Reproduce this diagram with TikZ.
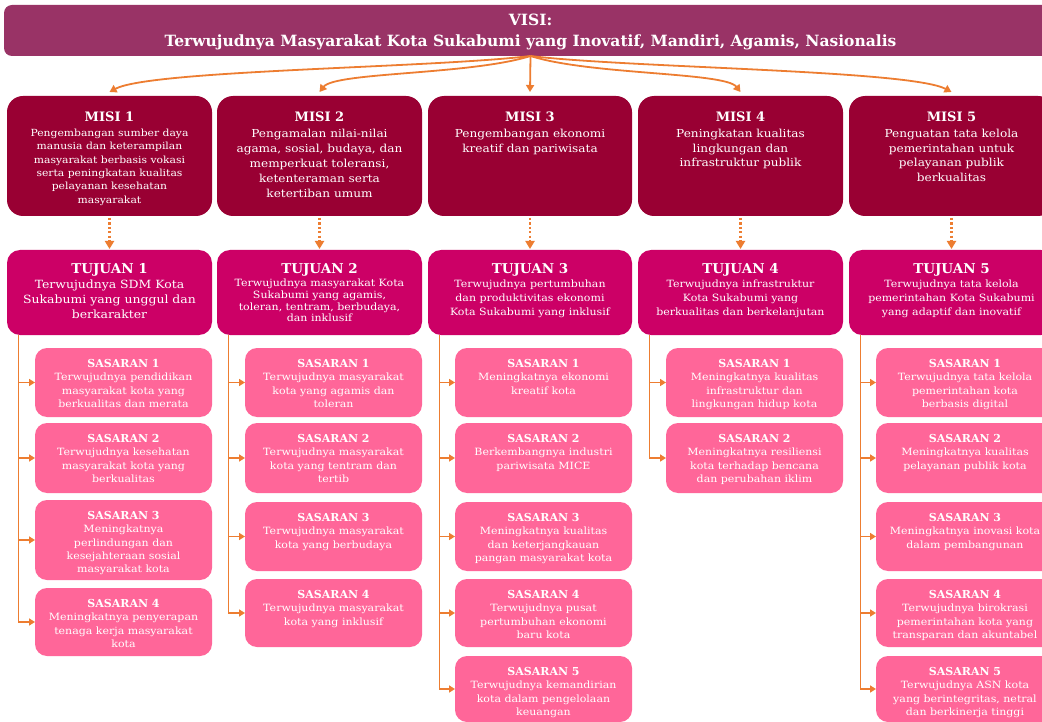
\documentclass[tikz,border=0pt]{standalone}
\usepackage{fontspec}
\setmainfont{DejaVu Serif}
\newfontfamily\bodyf[FakeStretch=1.1]{DejaVu Serif}
\usetikzlibrary{arrows.meta,calc}
\definecolor{visic}{HTML}{993366}
\definecolor{misic}{HTML}{990033}
\definecolor{tujc}{HTML}{CC0066}
\definecolor{sasc}{HTML}{FF6699}
\definecolor{orc}{HTML}{ED7D31}
\tikzset{
  boxbase/.style={inner sep=0pt, outer sep=0pt, draw=none},
  visibox/.style={boxbase, fill=visic, rounded corners=8pt},
  misibox/.style={boxbase, fill=misic, rounded corners=16pt},
  tujbox/.style={boxbase, fill=tujc, rounded corners=13pt},
  sasbox/.style={boxbase, fill=sasc, rounded corners=12pt},
  ttl/.style={inner sep=0pt, text=white, anchor=base},
  bdy/.style={inner sep=0pt, text=white, align=center, anchor=north},
  curvearr/.style={draw=orc, line width=1.8pt, -{Triangle[length=7pt,width=8pt]}},
  dotarr/.style={draw=orc, line width=2.6pt, dash pattern=on 2.2pt off 2.2pt, -{Triangle[length=8pt,width=9pt]}},
  brarr/.style={draw=orc, line width=1.8pt, -{Triangle[length=6pt,width=7pt]}},
}
\newcommand{\bx}[6]{%
  \node[#1, minimum width={#5-#3}, minimum height={#6-#4}] (#2) at ({(#3+#5)/2},{-(#4+#6)/2}) {};}
% name x1 y1 x2 y2 title body bodyfont
\newcommand{\misibx}[8]{%
  \bx{misibox}{#1}{#2}{#3}{#4}{#5}
  \node[ttl, font=\bfseries\fontsize{13}{15}\selectfont] (#1t) at ([yshift=-26pt]#1.north) {#6};
  \node[bdy, font=\bodyf#8] (#1b) at ([yshift=-33pt]#1.north) {#7};}
\newcommand{\tujbx}[9]{%
  \bx{tujbox}{#1}{#2}{#3}{#4}{#5}
  \node[ttl, font=\bfseries\fontsize{13.5}{15}\selectfont] (#1t) at ([yshift=-23.5pt]#1.north) {#6};
  \node[bdy, font=\bodyf#8] (#1b) at ([yshift=-#9pt]#1.north) {#7};}
\newcommand{\sasbx}[7]{%
  \bx{sasbox}{#1}{#2}{#3}{#4}{#5}
  \node[ttl, font=\bfseries\fontsize{11}{13}\selectfont] (#1t) at ([yshift=-19.5pt]#1.north) {#6};
  \node[bdy, font=\bodyf\fontsize{10}{13.3}\selectfont] (#1b) at ([yshift=-25pt]#1.north) {#7};}
\begin{document}
\begin{tikzpicture}[x=1pt,y=1pt]
\clip (0,0) rectangle (1042,-722);
\fill[white] (0,0) rectangle (1042,-722);
% VISI
\bx{visibox}{v}{4}{5}{1057}{56}
\node[ttl, font=\bfseries\fontsize{15.5}{17}\selectfont] (vt) at ([yshift=-20.5pt]v.north) {VISI:};
\node[ttl, font=\bfseries\fontsize{15.5}{17}\selectfont] (vb) at ([yshift=-42pt]v.north) {Terwujudnya Masyarakat Kota Sukabumi yang Inovatif, Mandiri, Agamis, Nasionalis};
% MISI
\misibx{m1}{7}{96}{212}{216}{MISI 1}{Pengembangan sumber daya\\manusia dan keterampilan\\masyarakat berbasis vokasi\\serta peningkatan kualitas\\pelayanan kesehatan\\masyarakat}{\fontsize{9.8}{13.3}\selectfont}
\misibx{m2}{217}{96}{422}{216}{MISI 2}{Pengamalan nilai-nilai\\agama, sosial, budaya, dan\\memperkuat toleransi,\\ketenteraman serta\\ketertiban umum}{\fontsize{11}{15}\selectfont}
\misibx{m3}{428}{96}{632}{216}{MISI 3}{Pengembangan ekonomi\\kreatif dan pariwisata}{\fontsize{11}{14.5}\selectfont}
\misibx{m4}{638}{96}{843}{216}{MISI 4}{Peningkatan kualitas\\lingkungan dan\\infrastruktur publik}{\fontsize{11}{14.5}\selectfont}
\misibx{m5}{849}{96}{1054}{216}{MISI 5}{Penguatan tata kelola\\pemerintahan untuk\\pelayanan publik\\berkualitas}{\fontsize{11}{14.5}\selectfont}
% TUJUAN
\tujbx{t1}{7}{250}{212}{335}{TUJUAN 1}{Terwujudnya SDM Kota\\Sukabumi yang unggul dan\\berkarakter}{\fontsize{11.3}{15}\selectfont}{30}
\tujbx{t2}{217}{250}{422}{335}{TUJUAN 2}{Terwujudnya masyarakat Kota\\Sukabumi yang agamis,\\toleran, tentram, berbudaya,\\dan inklusif}{\fontsize{10}{11.7}\selectfont}{29}
\tujbx{t3}{428}{250}{632}{335}{TUJUAN 3}{Terwujudnya pertumbuhan\\dan produktivitas ekonomi\\Kota Sukabumi yang inklusif}{\fontsize{10}{14}\selectfont}{30}
\tujbx{t4}{638}{250}{843}{335}{TUJUAN 4}{Terwujudnya infrastruktur\\Kota Sukabumi yang\\berkualitas dan berkelanjutan}{\fontsize{10}{14}\selectfont}{30}
\tujbx{t5}{849}{250}{1054}{335}{TUJUAN 5}{Terwujudnya tata kelola\\pemerintahan Kota Sukabumi\\yang adaptif dan inovatif}{\fontsize{10}{14}\selectfont}{30}
% SASARAN column 1
\sasbx{s11}{35}{348}{212}{417}{SASARAN 1}{Terwujudnya pendidikan\\masyarakat kota yang\\berkualitas dan merata}
\sasbx{s12}{35}{423}{212}{493}{SASARAN 2}{Terwujudnya kesehatan\\masyarakat kota yang\\berkualitas}
\sasbx{s13}{35}{500}{212}{580}{SASARAN 3}{Meningkatnya\\perlindungan dan\\kesejahteraan sosial\\masyarakat kota}
\sasbx{s14}{35}{588}{212}{656}{SASARAN 4}{Meningkatnya penyerapan\\tenaga kerja masyarakat\\kota}
% column 2
\sasbx{s21}{245}{348}{422}{417}{SASARAN 1}{Terwujudnya masyarakat\\kota yang agamis dan\\toleran}
\sasbx{s22}{245}{423}{422}{493}{SASARAN 2}{Terwujudnya masyarakat\\kota yang tentram dan\\tertib}
\sasbx{s23}{245}{502}{422}{571}{SASARAN 3}{Terwujudnya masyarakat\\kota yang berbudaya}
\sasbx{s24}{245}{579}{422}{647}{SASARAN 4}{Terwujudnya masyarakat\\kota yang inklusif}
% column 3
\sasbx{s31}{455}{348}{632}{417}{SASARAN 1}{Meningkatnya ekonomi\\kreatif kota}
\sasbx{s32}{455}{423}{632}{493}{SASARAN 2}{Berkembangnya industri\\pariwisata MICE}
\sasbx{s33}{455}{502}{632}{571}{SASARAN 3}{Meningkatnya kualitas\\dan keterjangkauan\\pangan masyarakat kota}
\sasbx{s34}{455}{579}{632}{647}{SASARAN 4}{Terwujudnya pusat\\pertumbuhan ekonomi\\baru kota}
\sasbx{s35}{455}{656}{632}{722}{SASARAN 5}{Terwujudnya kemandirian\\kota dalam pengelolaan\\keuangan}
% column 4
\sasbx{s41}{666}{348}{843}{417}{SASARAN 1}{Meningkatnya kualitas\\infrastruktur dan\\lingkungan hidup kota}
\sasbx{s42}{666}{423}{843}{493}{SASARAN 2}{Meningkatnya resiliensi\\kota terhadap bencana\\dan perubahan iklim}
% column 5
\sasbx{s51}{876}{348}{1054}{417}{SASARAN 1}{Terwujudnya tata kelola\\pemerintahan kota\\berbasis digital}
\sasbx{s52}{876}{423}{1054}{493}{SASARAN 2}{Meningkatnya kualitas\\pelayanan publik kota}
\sasbx{s53}{876}{502}{1054}{571}{SASARAN 3}{Meningkatnya inovasi kota\\dalam pembangunan}
\sasbx{s54}{876}{579}{1054}{647}{SASARAN 4}{Terwujudnya birokrasi\\pemerintahan kota yang\\transparan dan akuntabel}
\sasbx{s55}{876}{656}{1054}{722}{SASARAN 5}{Terwujudnya ASN kota\\yang berintegritas, netral\\dan berkinerja tinggi}
% VISI -> MISI
\draw[curvearr] (v.south) .. controls (430,-68) and (150,-70) .. ([yshift=4pt]m1.north);
\draw[curvearr] (v.south) .. controls (470,-75) and (335,-72) .. ([yshift=4pt]m2.north);
\draw[curvearr] (v.south) -- ([yshift=4pt]m3.north);
\draw[curvearr] (v.south) .. controls (590,-75) and (725,-72) .. ([yshift=4pt]m4.north);
\draw[curvearr] (v.south) .. controls (630,-68) and (910,-70) .. ([yshift=4pt]m5.north);
% MISI -> TUJUAN
\foreach \i in {1,...,5} {\draw[dotarr] ([yshift=-2pt]m\i.south) -- ([yshift=1pt]t\i.north);}
% trunks
\foreach \i in {1,...,5} {\coordinate (k\i) at ([xshift=11.5pt]t\i.south west);}
\foreach \s in {s11,s12,s13,s14} {\draw[brarr] (k1) |- (\s.west);}
\foreach \s in {s21,s22,s23,s24} {\draw[brarr] (k2) |- (\s.west);}
\foreach \s in {s31,s32,s33,s34,s35} {\draw[brarr] (k3) |- (\s.west);}
\foreach \s in {s41,s42} {\draw[brarr] (k4) |- (\s.west);}
\foreach \s in {s51,s52,s53,s54,s55} {\draw[brarr] (k5) |- (\s.west);}
\end{tikzpicture}
\end{document}
